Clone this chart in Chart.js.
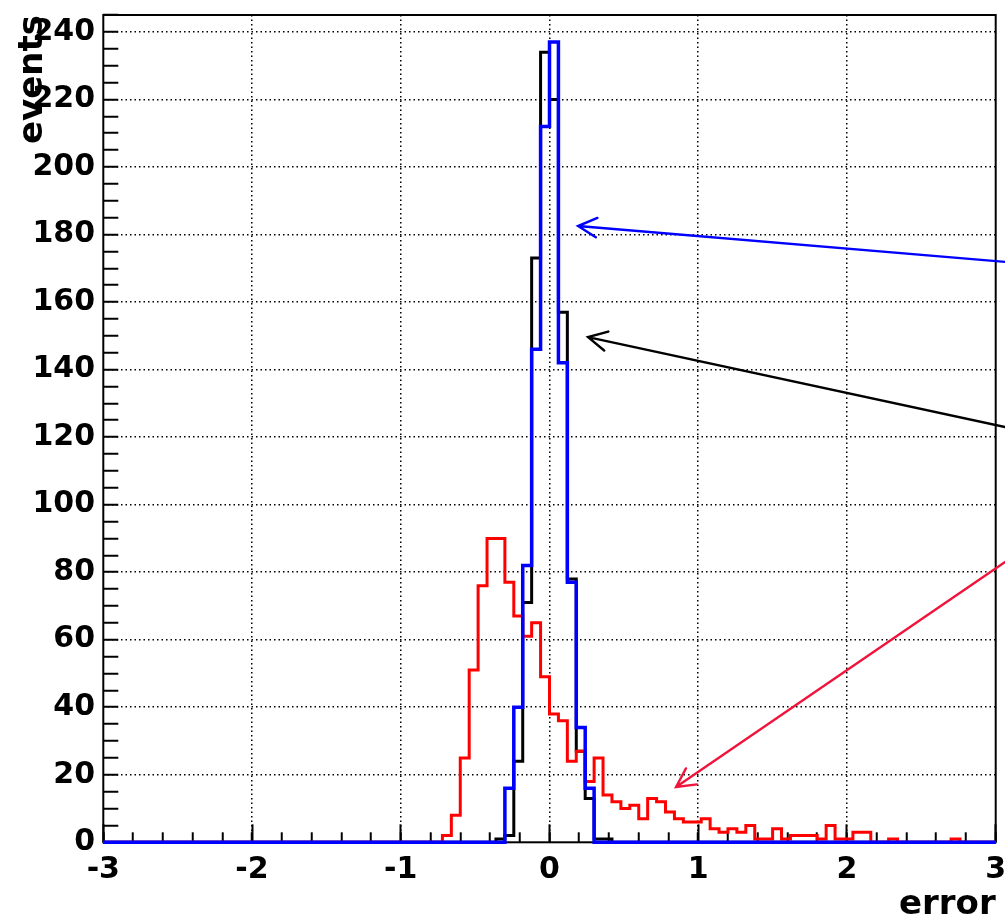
<!DOCTYPE html>
<html>
<head>
<meta charset="utf-8">
<script src="https://cdn.jsdelivr.net/npm/chart.js@4.4.1/dist/chart.umd.min.js"></script>
<style>
html,body{margin:0;padding:0;background:#fff;overflow:hidden}
#wrap{position:relative;width:1005px;height:923px}
</style>
</head>
<body>
<div id="wrap"><canvas id="c" width="1005" height="923"></canvas></div>
<script>
// ---- axis definitions ----
const xMin = -3, xMax = 3, binWidth = 0.06;
const yMin = 0, yMax = 245;
const xTickLabels = ['-3', '-2', '-1', '0', '1', '2', '3'];
const yTickLabels = ['0', '20', '40', '60', '80', '100', '120', '140', '160', '180', '200', '220', '240'];
const xTitle = 'error';
const yTitle = 'events';

// ---- histogram contents (counts per 0.06 bin, starting at the given lower edge) ----
const blackFrom = -0.36;
const blackCounts = [1, 2, 24, 71, 173, 234, 220, 157, 78, 27, 13, 1, 1];

const blueFrom = -0.30;
const blueCounts = [16, 40, 82, 146, 212, 237, 142, 77, 34, 16];

const redFrom = -0.72;
const redCounts = [2, 8, 25, 51, 76, 90, 90, 77, 67, 61,
                   65, 49, 38, 36, 24, 27, 18, 25, 14, 12,
                   10, 11, 7, 13, 12, 9, 7, 6, 6, 7,
                   4, 3, 4, 3, 5, 1, 1, 4, 1, 2,
                   2, 2, 1, 5, 1, 1, 3, 3, 0, 0,
                   1, 0, 0, 0, 0, 0, 0, 1];

// ---- annotation arrows (data coordinates: tail -> tip) ----
const arrowBlue  = {from: [3.063, 171.9], to: [0.192, 182.5], color: '#0000ff'};
const arrowBlack = {from: [3.063, 123.0], to: [0.259, 149.6], color: '#000000'};
const arrowRed   = {from: [3.063, 83.0],  to: [0.851, 16.4],  color: '#f0143c'};

function histPoints(from, counts) {
  const nb = Math.round((xMax - xMin) / binWidth);
  const first = Math.round((from - xMin) / binWidth);
  const pts = [];
  for (let k = 0; k <= nb; k++) {
    const i = k - first;
    const v = (k < nb && i >= 0 && i < counts.length) ? counts[i] : 0;
    pts.push({x: xMin + k * binWidth, y: v});
  }
  return pts;
}

const isInt = v => Math.abs(v - Math.round(v)) < 1e-6;
const FONT = "'DejaVu Sans'";
const noPad = s => { s.paddingLeft = 0; s.paddingRight = 0; s.paddingTop = 0; s.paddingBottom = 0; };

const framePlugin = {
  id: 'frame',
  beforeDatasetsDraw(chart) {
    const {ctx, chartArea: a} = chart;
    ctx.save();
    ctx.strokeStyle = '#000';
    ctx.lineWidth = 2;
    ctx.strokeRect(a.left, a.top, a.right - a.left, a.bottom - a.top);
    ctx.restore();
  }
};

const arrowPlugin = {
  id: 'arrows',
  afterDatasetsDraw(chart) {
    const {ctx} = chart;
    const sx = chart.scales.x, sy = chart.scales.y;
    [arrowBlue, arrowBlack, arrowRed].forEach(a => {
      const x1 = sx.getPixelForValue(a.from[0]), y1 = sy.getPixelForValue(a.from[1]);
      const x2 = sx.getPixelForValue(a.to[0]),   y2 = sy.getPixelForValue(a.to[1]);
      const ang = Math.atan2(y1 - y2, x1 - x2);
      const L = 21, h = 0.48;
      ctx.save();
      ctx.strokeStyle = a.color;
      ctx.lineWidth = 2.4;
      ctx.lineCap = 'round';
      ctx.beginPath();
      ctx.moveTo(x1, y1);
      ctx.lineTo(x2, y2);
      ctx.moveTo(x2 + L * Math.cos(ang + h), y2 + L * Math.sin(ang + h));
      ctx.lineTo(x2, y2);
      ctx.lineTo(x2 + L * Math.cos(ang - h), y2 + L * Math.sin(ang - h));
      ctx.stroke();
      ctx.restore();
    });
  }
};

new Chart(document.getElementById('c'), {
  type: 'line',
  data: {
    datasets: [
      {label: 'blue',  data: histPoints(blueFrom, blueCounts),  borderColor: '#0000ff', borderWidth: 3.5, order: 0},
      {label: 'red',   data: histPoints(redFrom, redCounts),    borderColor: '#ff0000', borderWidth: 3,   order: 1},
      {label: 'black', data: histPoints(blackFrom, blackCounts), borderColor: '#000000', borderWidth: 3,  order: 2}
    ].map(d => Object.assign(d, {stepped: 'before', pointRadius: 0, fill: false, tension: 0, clip: false, borderJoinStyle: 'miter'}))
  },
  options: {
    responsive: false,
    animation: false,
    devicePixelRatio: 1,
    layout: {padding: {left: 0, top: 15, right: 9.3, bottom: 0}},
    plugins: {legend: {display: false}, tooltip: {enabled: false}},
    scales: {
      xMajor: {
        type: 'linear', min: xMin, max: xMax, position: 'bottom', weight: 0,
        ticks: {display: false, stepSize: 1, maxTicksLimit: 100},
        grid: {drawOnChartArea: false, drawTicks: true, tickLength: -18, tickWidth: 2, tickColor: '#000'},
        border: {display: false},
        afterFit: s => { s.height = 0; noPad(s); }
      },
      x: {
        type: 'linear', min: xMin, max: xMax, position: 'bottom', weight: 1,
        ticks: {
          stepSize: 0.2, maxTicksLimit: 100, autoSkip: false, maxRotation: 0, minRotation: 0,
          padding: 20, color: '#000',
          font: {family: FONT, weight: 'bold', size: 30},
          callback: v => isInt(v) ? xTickLabels[Math.round(v) - xMin] : ''
        },
        grid: {
          color: c => (isInt(c.tick.value) && c.tick.value > xMin && c.tick.value < xMax) ? '#000' : 'rgba(0,0,0,0)',
          lineWidth: 1.5, drawTicks: true, tickLength: -10, tickWidth: 2, tickColor: '#000'
        },
        border: {display: false, dash: [1.5, 3]},
        title: {display: true, text: xTitle, align: 'end', color: '#000',
                font: {family: FONT, weight: 'bold', size: 34}, padding: {top: 0, bottom: -2.6}},
        afterFit: s => { s.height = 80.7; noPad(s); }
      },
      y: {
        type: 'linear', min: yMin, max: yMax, position: 'left',
        ticks: {
          stepSize: 5, maxTicksLimit: 100, autoSkip: false, padding: 23.3, color: '#000',
          font: {family: FONT, weight: 'bold', size: 30},
          callback: v => (v % 20 === 0) ? yTickLabels[v / 20] : ''
        },
        grid: {
          color: c => (c.tick.value % 20 === 0 && c.tick.value > yMin && c.tick.value < yMax) ? '#000' : 'rgba(0,0,0,0)',
          lineWidth: 1.5, drawTicks: true, tickLength: -15, tickWidth: 2, tickColor: '#000'
        },
        border: {display: false, dash: [1.5, 3]},
        title: {display: true, text: yTitle, align: 'end', color: '#000',
                font: {family: FONT, weight: 'bold', size: 34}, padding: {top: 13, bottom: 0}},
        afterFit: s => { s.width = 103.3; noPad(s); }
      }
    }
  },
  plugins: [framePlugin, arrowPlugin]
});
</script>
</body>
</html>
